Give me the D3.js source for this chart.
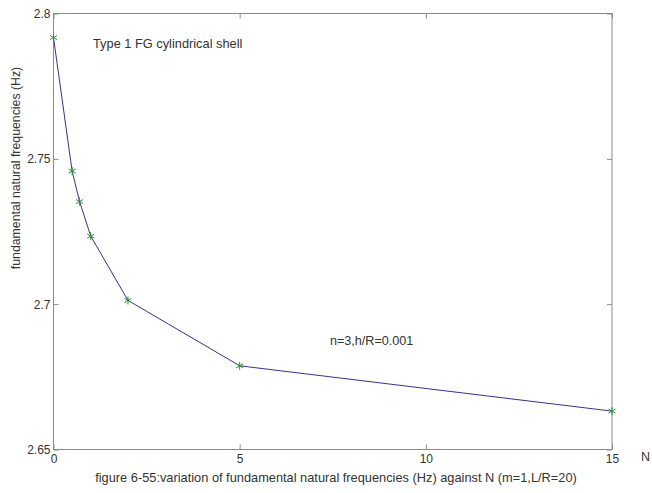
<!DOCTYPE html>
<html>
<head>
<meta charset="utf-8">
<script src="https://cdn.jsdelivr.net/npm/d3@7"></script>
<style>
  body { margin: 0; background: #fff; }
  text { font-family: "Liberation Sans", Arial, sans-serif; fill: #333; }
  .axis path, .axis line { stroke: #8a8a8a; }
  .axis text { font-size: 12px; fill: #333; }
</style>
</head>
<body>
<div id="chart"></div>
<script>
// values
var nValues = [0, 0.5, 0.7, 1, 2, 5, 15];
var freqValues = [2.7917, 2.7458, 2.7353, 2.7234, 2.7013, 2.6788, 2.6632];
var xTicks = [0, 5, 10, 15];
var yTicks = [2.65, 2.7, 2.75, 2.8];

var width = 652, height = 493;
var margin = {top: 13.5, left: 53.5, right: 40, bottom: 43.5};

var svg = d3.select("#chart")
	.append("svg")
	.attr("width", width)
	.attr("height", height);

var x = d3.scaleLinear().domain([0, 15]).range([margin.left, width - margin.right]);
var y = d3.scaleLinear().domain([2.65, 2.8]).range([height - margin.bottom, margin.top]);

// frame box
svg.append("rect")
	.attr("x", x(0)).attr("y", y(2.8))
	.attr("width", x(15) - x(0)).attr("height", y(2.65) - y(2.8))
	.attr("fill", "none").attr("stroke", "#8a8a8a");

// axes, ticks pointing inward like matlab
var fmt = function(d) { return d3.format("")(+d.toFixed(2)); };

svg.append("g").attr("class", "axis")
	.attr("transform", "translate(0," + y(2.65) + ")")
	.call(d3.axisBottom(x).tickValues(xTicks).tickSize(-5).tickPadding(5).tickFormat(fmt))
	.call(function(g) { g.select(".domain").remove(); });

svg.append("g").attr("class", "axis")
	.attr("transform", "translate(0," + y(2.8) + ")")
	.call(d3.axisTop(x).tickValues(xTicks).tickSize(-5).tickFormat(""))
	.call(function(g) { g.select(".domain").remove(); });

svg.append("g").attr("class", "axis")
	.attr("transform", "translate(" + x(0) + ",0)")
	.call(d3.axisLeft(y).tickValues(yTicks).tickSize(-5).tickPadding(3).tickFormat(fmt))
	.call(function(g) { g.select(".domain").remove(); });

svg.append("g").attr("class", "axis")
	.attr("transform", "translate(" + x(15) + ",0)")
	.call(d3.axisRight(y).tickValues(yTicks).tickSize(-5).tickFormat(""))
	.call(function(g) { g.select(".domain").remove(); });

// the curve
var data = nValues.map(function(d, i) { return {n: d, f: freqValues[i]}; });

var line = d3.line()
	.x(function(d) { return x(d.n); })
	.y(function(d) { return y(d.f); });

svg.append("path")
	.datum(data)
	.attr("d", line)
	.attr("fill", "none")
	.attr("stroke", "#34348c")
	.attr("stroke-width", 1);

svg.selectAll(".pt")
	.data(data)
	.enter().append("path")
	.attr("class", "pt")
	.attr("transform", function(d) { return "translate(" + x(d.n) + "," + y(d.f) + ")"; })
	.attr("d", d3.symbol().type(d3.symbolAsterisk).size(45))
	.attr("fill", "none")
	.attr("stroke", "#2e8b3a")
	.attr("stroke-width", 1);

// labels
svg.append("text")
	.attr("x", 93).attr("y", 48)
	.style("font-size", "12.8px")
	.text("Type 1 FG cylindrical shell");

svg.append("text")
	.attr("x", 330).attr("y", 345)
	.style("font-size", "12.6px")
	.text("n=3,h/R=0.001");

svg.append("text")
	.attr("transform", "translate(20,168) rotate(-90)")
	.attr("text-anchor", "middle")
	.style("font-size", "12.3px")
	.text("fundamental natural frequencies (Hz)");

svg.append("text")
	.attr("x", 641).attr("y", 461)
	.style("font-size", "12.5px")
	.text("N");

svg.append("text")
	.attr("x", 336).attr("y", 482)
	.attr("text-anchor", "middle")
	.style("font-size", "12.8px")
	.text("figure 6-55:variation of fundamental natural frequencies (Hz) against N (m=1,L/R=20)");
</script>
</body>
</html>
